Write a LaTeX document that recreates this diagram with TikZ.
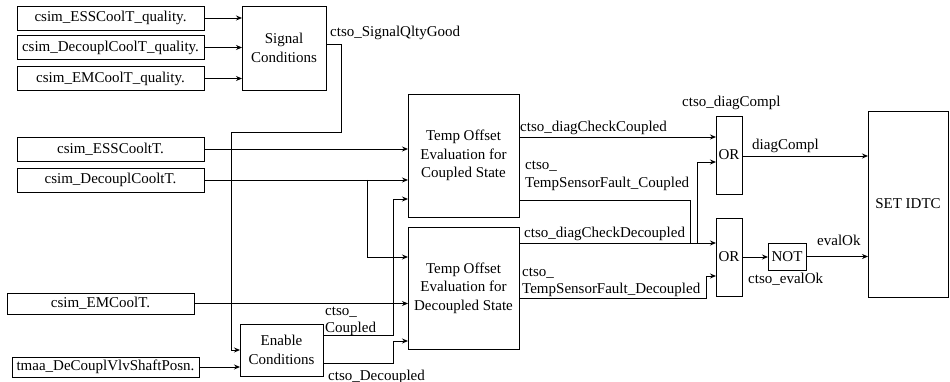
\documentclass[tikz,border=0pt]{standalone}
\usepackage{fontspec}
\setmainfont{Liberation Serif}
\usetikzlibrary{arrows.meta}
\begin{document}
\begin{tikzpicture}[x=1pt,y=-1pt,
  every node/.style={font=\fontsize{15}{18.5}\selectfont},
  blk/.style={draw, line width=0.9pt, fill=white, inner sep=0pt, outer sep=0pt, align=center},
  lbl/.style={inner sep=0pt, anchor=base west},
  wire/.style={line width=0.9pt, -{Stealth[length=6pt,width=5pt]}}]
\useasboundingbox[fill=white] (0,0) rectangle (950,382);

% input signals
\node[blk, minimum width=187pt, minimum height=24pt] (q1) at (110.5,18)   {csim\_ESSCoolT\_quality.};
\node[blk, minimum width=187pt, minimum height=24pt] (q2) at (110.5,47.5) {csim\_DecouplCoolT\_quality.};
\node[blk, minimum width=187pt, minimum height=24pt] (q3) at (110.5,78.5) {csim\_EMCoolT\_quality.};
\node[blk, minimum width=187pt, minimum height=24pt] (ess) at (110.5,149) {csim\_ESSCooltT.};
\node[blk, minimum width=187pt, minimum height=24pt] (dec) at (110.5,180) {csim\_DecouplCooltT.};
\node[blk, minimum width=187pt, minimum height=21pt] (em) at (100.5,303.5) {csim\_EMCoolT.};
\node[blk, minimum width=187pt, minimum height=20pt] (tm) at (105.5,367) {tmaa\_DeCouplVlvShaftPosn.};

% processing blocks
\node[blk, minimum width=84pt, minimum height=84pt] (sig) at (284,48) {Signal\\Conditions};
\node[blk, minimum width=83pt, minimum height=52pt] (en) at (281.5,350) {Enable\\Conditions};
\node[blk, minimum width=111pt, minimum height=123pt] (tc) at (463.5,155.5) {Temp Offset\\Evaluation for\\Coupled State};
\node[blk, minimum width=111pt, minimum height=122pt] (td) at (463.5,288) {Temp Offset\\Evaluation for\\Decoupled State};
\node[blk, minimum width=26pt, minimum height=78pt] (or1) at (729,155) {OR};
\node[blk, minimum width=26pt, minimum height=78pt] (or2) at (729,257) {OR};
\node[blk, minimum width=38pt, minimum height=27pt] (not) at (787,256.5) {NOT};
\node[blk, minimum width=80pt, minimum height=186pt] (set) at (908,204) {SET IDTC};

% quality inputs
\draw[wire] (q1.east) -- (q1.east -| sig.west);
\draw[wire] (q2.east) -- (q2.east -| sig.west);
\draw[wire] (q3.east) -- (q3.east -| sig.west);

% signal quality to enable conditions
\draw[wire] ([yshift=4pt]sig.east) -| (341,132) -| (231,350) -- (en.west);

% temperatures
\draw[wire] (ess.east) -- (ess.east -| tc.west);
\draw[wire] (dec.east) -- (dec.east -| tc.west);
\draw[wire] (367,180) |- (td.west |- 0,257);
\draw[wire] (em.east) -- (em.east -| td.west);
\draw[wire] (tm.east) -- (tm.east -| en.west);

% enable outputs
\draw[wire] (en.east |- 0,335) -| (393,199) -- (tc.west |- 0,199);
\draw[wire] (en.east |- 0,363) -| (393,341) -- (td.west |- 0,341);

% evaluation outputs
\draw[wire] (tc.east |- 0,137) -- (or1.west |- 0,137);
\draw[wire] (tc.east |- 0,200) -| (690,243) -- (or2.west |- 0,243);
\draw[wire] (td.east |- 0,243) -| (697,162) -- (or1.west |- 0,162);
\draw[wire] (td.east |- 0,298) -| (706,276) -- (or2.west |- 0,276);

% logic to SET IDTC
\draw[wire] (or1.east |- 0,156) -- (set.west |- 0,156);
\draw[wire] (or2.east) -- (or2.east -| not.west);
\draw[wire] (not.east) -- (not.east -| set.west);

% signal names
\node[lbl] (l1) at (330,37) {ctso\_SignalQltyGood};
\node[lbl] (l2) at (520,132) {ctso\_diagCheckCoupled};
\node[lbl] (l3a) at (525,170) {ctso\_};
\node[lbl] (l3b) at (525,188) {TempSensorFault\_Coupled};
\node[lbl] (l4) at (524,237) {ctso\_diagCheckDecoupled};
\node[lbl] (l5a) at (522,276) {ctso\_};
\node[lbl] (l5b) at (522,293) {TempSensorFault\_Decoupled};
\node[lbl] (l6) at (682,107) {ctso\_diagCompl};
\node[lbl] (l7) at (752,150) {diagCompl};
\node[lbl] (l8) at (817,245) {evalOk};
\node[lbl] (l9) at (748,283) {ctso\_evalOk};
\node[lbl] (l10a) at (325,315) {ctso\_};
\node[lbl] (l10b) at (325,332) {Coupled};
\node[lbl] (l11) at (328,380) {ctso\_Decoupled};
\end{tikzpicture}
\end{document}
